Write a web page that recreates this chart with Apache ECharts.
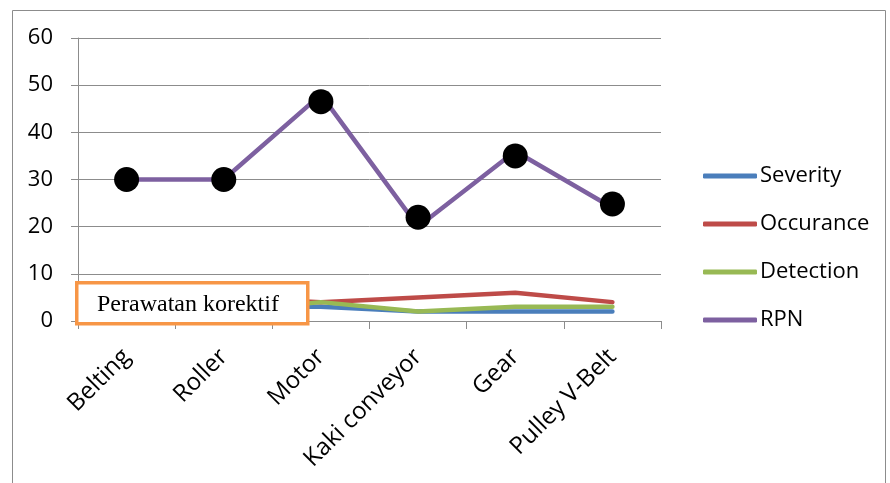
<!DOCTYPE html>
<html><head><meta charset="utf-8">
<script src="https://cdn.jsdelivr.net/npm/echarts@6/dist/echarts.min.js"></script>
<style>html,body{margin:0;padding:0;background:#fff}#c{width:890px;height:483px}</style>
</head><body><div id="c"></div>
<script>
// FMEA chart — Severity / Occurance / Detection / RPN per komponen
const categories = ['Belting','Roller','Motor','Kaki conveyor','Gear','Pulley V-Belt'];
const severity   = [3, 3, 3, 2, 2, 2];
const occurance  = [5, 5, 4, 5, 6, 4];
const detection  = [2, 2, 4, 2, 3, 3];
const rpn        = [30, 30, 48, 20, 36, 24];
// black dots overlaid on the RPN line (placed a bit off the line in the original)
const rpnDots    = [30, 30, 46.5, 22, 35, 24.8];
const yTicks     = {min:0, max:60, interval:10};

const C = {blue:'#4A7EBB', red:'#BE4B48', green:'#98B954', purple:'#7D60A0', grid:'#8C8C8C', orange:'#F79646'};
const FONT = 'Open Sans, sans-serif';

const chart = echarts.init(document.getElementById('c'), null, {renderer:'canvas'});
const line = (name, data, color) => ({
  name, type:'line', data, symbol:'none', smooth:false,
  lineStyle:{color, width:4.5, cap:'round', join:'round'}, itemStyle:{color},
  emphasis:{disabled:true}, animation:false
});

chart.setOption({
  animation:false,
  grid:{left:78, right:229, top:38, bottom:162, containLabel:false},
  xAxis:{
    type:'category', data:categories, boundaryGap:true,
    axisLine:{lineStyle:{color:C.grid, width:1}},
    axisTick:{show:true, length:8, lineStyle:{color:C.grid}, alignWithLabel:false},
    axisLabel:{rotate:45, margin:32, fontSize:24, color:'#000', fontFamily:FONT, interval:0}
  },
  yAxis:{
    type:'value', ...yTicks,
    axisLine:{show:true, lineStyle:{color:C.grid, width:1}},
    axisTick:{show:true, length:7, lineStyle:{color:C.grid}},
    axisLabel:{fontSize:22, color:'#000', fontFamily:FONT, margin:25},
    splitLine:{lineStyle:{color:C.grid, width:1}}
  },
  legend:{
    orient:'vertical', left:703, top:161, padding:0, itemGap:18,
    itemWidth:54, itemHeight:5, icon:'roundRect',
    textStyle:{fontSize:22, lineHeight:30, color:'#000', fontFamily:FONT, padding:[0,0,0,-2]},
    data:['Severity','Occurance','Detection','RPN']
  },
  series:[
    line('Severity', severity, C.blue),
    line('Occurance', occurance, C.red),
    line('Detection', detection, C.green),
    line('RPN', rpn, C.purple),
    {name:'dots', type:'scatter', data:rpnDots, symbol:'circle', symbolSize:25,
     itemStyle:{color:'#000', opacity:1}, emphasis:{disabled:true}, z:5}
  ],
  graphic:[
    {type:'rect', left:10, top:8, z:-10, silent:true,
     shape:{width:873, height:490}, style:{fill:'none', stroke:'#8C8C8C', lineWidth:1}},
    {type:'rect', left:75, top:281, z:100, zlevel:1, silent:true,
     shape:{width:231, height:41},
     style:{fill:'#fff', stroke:C.orange, lineWidth:3.5}},
    {type:'text', x:97, y:305, z:101, zlevel:1, silent:true,
     style:{text:'Perawatan korektif', font:'24px "Liberation Serif", serif', fill:'#000',
            verticalAlign:'middle', align:'left'}}
  ]
});
</script></body></html>
